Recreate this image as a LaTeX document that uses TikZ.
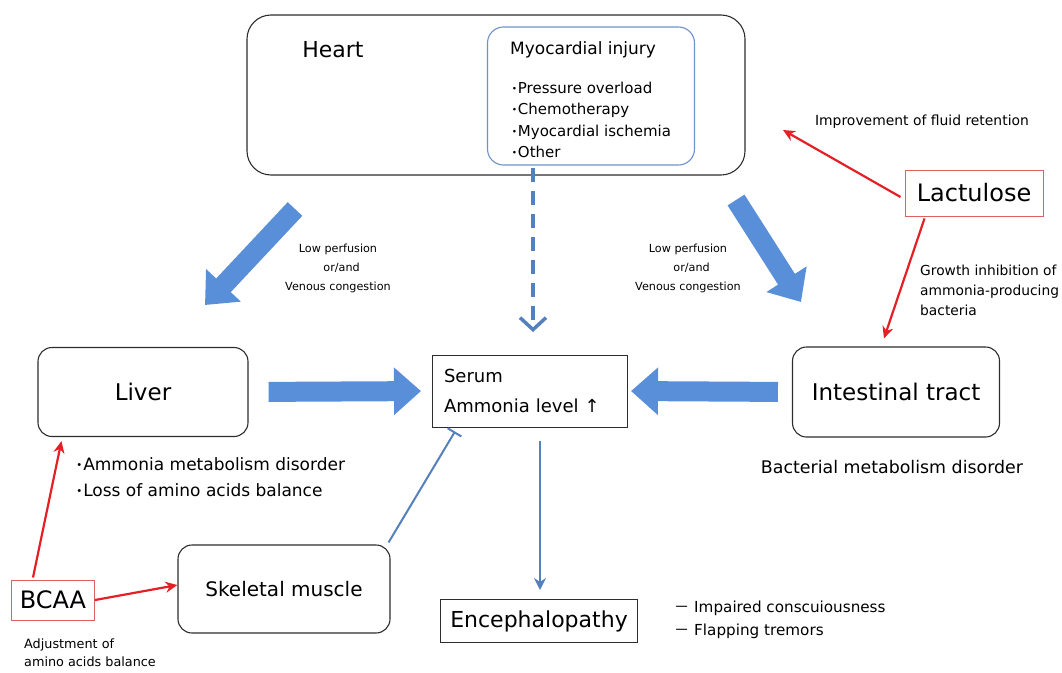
\documentclass[tikz,border=0pt]{standalone}
\usepackage{fontspec}
\setmainfont{DejaVu Sans}
\newfontfamily\jp{Noto Sans CJK JP}
\usetikzlibrary{arrows.meta}
\definecolor{fatblue}{RGB}{88,143,216}
\definecolor{lineblue}{RGB}{84,128,190}
\definecolor{drugred}{RGB}{228,32,38}
\definecolor{boxred}{RGB}{222,96,96}
\definecolor{frame}{RGB}{45,45,45}
\newcommand{\jdot}{\raisebox{0pt}[0pt][0pt]{\scalebox{0.85}{\jp ・}}\kern-0.2em}
\newcommand{\jbar}{\raisebox{0pt}[0pt][0pt]{\jp －}\ }
\tikzset{
  organ/.style={draw=frame, line width=1.1pt, rounded corners=14pt, fill=white},
  plainbox/.style={draw=frame, line width=1pt},
  drugbox/.style={draw=boxred, line width=1pt},
  fatarrow/.style={draw=fatblue, line width=20pt, -{Triangle[width=0pt 2.3,length=0pt 1.35]}},
  thinarrow/.style={draw=lineblue, line width=2pt},
  drugarrow/.style={draw=drugred, line width=2.2pt, -{Stealth[length=12pt,width=11pt]}},
  note/.style={inner sep=0pt, align=left},
}
\begin{document}
\begin{tikzpicture}[x=1pt,y=-1pt]
\useasboundingbox (0,0) rectangle (1062,672);
% heart
\node[organ, rounded corners=24pt, minimum width=498pt, minimum height=160pt] (heart) at (496,95) {};
\node[draw=lineblue!85, line width=1.1pt, rounded corners=16pt, minimum width=207pt, minimum height=138pt] (myo) at (591,96) {};
\node[font=\fontsize{22}{26}\selectfont] (heartlbl) at (333,50) {Heart};
\node[anchor=west, inner sep=0pt, font=\fontsize{17}{20}\selectfont] (myottl) at (510,50) {Myocardial injury};
\node[note, anchor=west, font=\fontsize{15}{21.4}\selectfont] (myolist) at (508,120)
  {\jdot Pressure overload\\ \jdot Chemotherapy\\ \jdot Myocardial ischemia\\ \jdot Other};
% organs and results
\node[organ, minimum width=210pt, minimum height=89pt, font=\fontsize{23}{27}\selectfont] (liver) at (143,392) {Liver};
\node[plainbox, minimum width=195pt, minimum height=72pt, text width=172pt, align=left, font=\fontsize{18}{30}\selectfont] (serum) at (530,391)
  {\raisebox{-4pt}{Serum}\\ \raisebox{-4pt}{Ammonia level ↑}};
\node[organ, minimum width=207pt, minimum height=90pt, font=\fontsize{23}{27}\selectfont] (intes) at (896,392) {Intestinal tract};
\node[drugbox, minimum width=138pt, minimum height=46pt, font=\fontsize{24}{28}\selectfont] (lact) at (974,193) {Lactulose};
\node[drugbox, minimum width=83pt, minimum height=40pt, font=\fontsize{24}{28}\selectfont] (bcaa) at (53,600) {BCAA};
\node[organ, minimum width=212pt, minimum height=88pt, font=\fontsize{20}{24}\selectfont] (skel) at (284,589) {Skeletal muscle};
\node[plainbox, minimum width=197pt, minimum height=43pt, font=\fontsize{22}{26}\selectfont] (enceph) at (539,621) {Encephalopathy};
% notes
\node[note, align=center, font=\fontsize{11.2}{19}\selectfont] (perfL) at (338,268) {Low perfusion\\ \ \ or/and\\ Venous congestion};
\node[note, align=center, font=\fontsize{11.2}{19}\selectfont] (perfR) at (688,268) {Low perfusion\\ \ \ or/and\\ Venous congestion};
\node[note, anchor=west, font=\fontsize{17}{26}\selectfont] (livernote) at (72,477) {\jdot Ammonia metabolism disorder\\ \jdot Loss of amino acids balance};
\node[note, font=\fontsize{17.4}{20}\selectfont] (intesnote) at (892,467) {Bacterial metabolism disorder};
\node[note, font=\fontsize{13.9}{16}\selectfont] (fluidnote) at (922,122) {Improvement of fluid retention};
\node[note, anchor=west, font=\fontsize{13.8}{20}\selectfont] (growthnote) at (920,290) {Growth inhibition of\\ ammonia-producing\\ bacteria};
\node[note, anchor=west, font=\fontsize{12.8}{18}\selectfont] (bcaanote) at (24,653) {Adjustment of\\ amino acids balance};
\node[note, anchor=west, font=\fontsize{15.2}{23}\selectfont] (encephnote) at (674,620) {\jbar Impaired conscuiousness\\ \jbar Flapping tremors};
% connectors
\coordinate (hlA) at (295,209);
\coordinate (hlB) at (205,305);
\coordinate (hrA) at (736,200);
\coordinate (hrB) at (801,302);
\coordinate (dashA) at (533,168);
\coordinate (dashB) at (533,332);
\coordinate (lacttip) at (783,130);
\draw[fatarrow] (hlA) -- (hlB);
\draw[fatarrow] (hrA) -- (hrB);
\draw[fatarrow, shorten <=20pt, shorten >=11pt] (liver.east) -- (serum.west);
\draw[fatarrow, shorten <=14pt, shorten >=3pt] (intes.west) -- (serum.east);
\draw[thinarrow, line width=3.5pt, dash pattern=on 14pt off 9pt, -{Straight Barb[length=12pt,width=26pt]}] (dashA) -- (dashB);
\draw[thinarrow, -{Stealth[length=12pt,width=12pt]}] ([xshift=10pt,yshift=-13pt]serum.south) -- ([xshift=1pt,yshift=9pt]enceph.north);
\draw[thinarrow, -{Bar[width=16pt]}] ([xshift=-2pt,yshift=2pt]skel.north east) -- ([xshift=-75pt,yshift=-4pt]serum.south);
\draw[drugarrow] ([xshift=-4pt,yshift=-4pt]lact.west) -- (lacttip);
\draw[drugarrow] ([xshift=20pt,yshift=-2pt]lact.south west) -- ([xshift=92pt,yshift=8pt]intes.north west);
\draw[drugarrow] ([xshift=22pt,yshift=2pt]bcaa.north west) -- ([xshift=24pt,yshift=-4pt]liver.south west);
\draw[drugarrow] (bcaa.east) -- ([yshift=4pt]skel.west);
\end{tikzpicture}
\end{document}
